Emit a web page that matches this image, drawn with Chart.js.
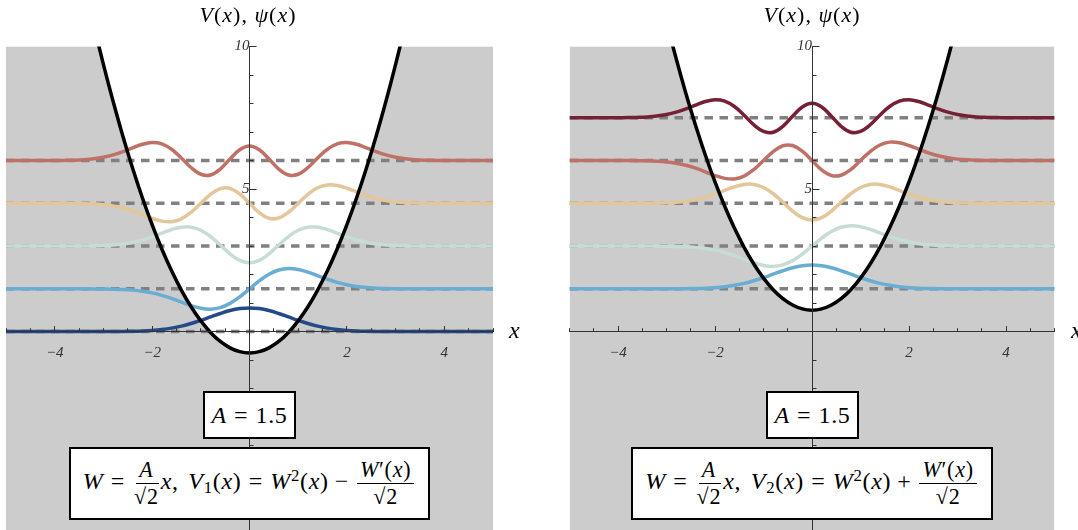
<!DOCTYPE html>
<html><head><meta charset="utf-8">
<style>
html,body{margin:0;padding:0;width:1078px;height:530px;overflow:hidden;background:#fff}
#wrap{position:relative;width:1078px;height:530px;overflow:hidden}
canvas{position:absolute;top:0}
.lbl{position:absolute;font-family:'Liberation Serif',serif;color:#000;line-height:1;white-space:nowrap}
.box{position:absolute;box-sizing:border-box;border:2px solid #000;background:#fff;display:flex;align-items:center;justify-content:center;font-family:'Liberation Serif',serif;font-size:24px;line-height:1;white-space:nowrap;color:#000}
.math{display:inline-block;letter-spacing:0.7px;font-family:'Liberation Serif',serif}
i{font-style:italic}
.rel{margin:0 0.3em}
.bin{margin:0 0.25em}
.sp{display:inline-block;width:0.4em}
.frac{display:inline-flex;flex-direction:column;align-items:center;vertical-align:middle;margin:0 2px;font-size:0.92em}
.frac .num{border-bottom:1.3px solid #000;padding:0 3px 2px}
.frac .den{padding-top:2px}
.ol{border-top:1.3px solid #000}
sub,sup{font-size:0.7em;line-height:0}
sub{vertical-align:-0.25em}
sup{vertical-align:0.5em}
</style></head>
<body>
<div id="wrap">
<canvas id="c1" width="539" height="560" style="left:0"></canvas>
<canvas id="c2" width="539" height="560" style="left:539px"></canvas>

<div class="lbl" style="left:248px;top:4px;font-size:22px;transform:translateX(-50%);letter-spacing:1px"><i>V</i>(<i>x</i>), <i>ψ</i>(<i>x</i>)</div>
<div class="lbl" style="left:812px;top:4px;font-size:22px;transform:translateX(-50%);letter-spacing:1px"><i>V</i>(<i>x</i>), <i>ψ</i>(<i>x</i>)</div>
<div class="lbl" style="left:509px;top:318px;font-size:24px"><i>x</i></div>
<div class="lbl" style="left:1071px;top:318px;font-size:24px"><i>x</i></div>

<div class="box" style="left:203px;top:391px;width:93px;height:48px"><span class="math"><i>A</i><span class="rel">=</span>1.5</span></div>
<div class="box" style="left:766px;top:391px;width:93px;height:48px"><span class="math"><i>A</i><span class="rel">=</span>1.5</span></div>

<div class="box" style="left:69px;top:447px;width:361px;height:73px"><span class="math"><i>W</i><span class="rel">=</span><span class="frac"><span class="num"><i>A</i></span><span class="den">√<span class="ol">2</span></span></span><i>x</i>,<span class="sp"></span><i>V</i><sub>1</sub>(<i>x</i>)<span class="rel">=</span><i>W</i><sup>2</sup>(<i>x</i>)<span class="bin">−</span><span class="frac"><span class="num"><i>W</i>′(<i>x</i>)</span><span class="den">√<span class="ol">2</span></span></span></span></div>
<div class="box" style="left:631px;top:447px;width:362px;height:73px"><span class="math"><i>W</i><span class="rel">=</span><span class="frac"><span class="num"><i>A</i></span><span class="den">√<span class="ol">2</span></span></span><i>x</i>,<span class="sp"></span><i>V</i><sub>2</sub>(<i>x</i>)<span class="rel">=</span><i>W</i><sup>2</sup>(<i>x</i>)<span class="bin">+</span><span class="frac"><span class="num"><i>W</i>′(<i>x</i>)</span><span class="den">√<span class="ol">2</span></span></span></span></div>
</div>

<script src="https://cdn.jsdelivr.net/npm/chart.js@4.4.0/dist/chart.umd.min.js"></script>
<script>
// ---- data ----
const xs = [-5,-4.8,-4.6,-4.4,-4.2,-4,-3.8,-3.6,-3.4,-3.2,-3,-2.8,-2.6,-2.4,-2.2,-2,-1.8,-1.6,-1.4,-1.2,-1,-0.8,-0.6,-0.4,-0.2,
  0,0.2,0.4,0.6,0.8,1,1.2,1.4,1.6,1.8,2,2.2,2.4,2.6,2.8,3,3.2,3.4,3.6,3.8,4,4.2,4.4,4.6,4.8,5];

const potential1 = [27.375,25.17,23.055,21.03,19.095,17.25,15.495,13.83,12.255,10.77,9.375,8.07,6.855,5.73,4.695,3.75,2.895,2.13,1.455,0.87,0.375,-0.03,-0.345,-0.57,-0.705,
  -0.75,-0.705,-0.57,-0.345,-0.03,0.375,0.87,1.455,2.13,2.895,3.75,4.695,5.73,6.855,8.07,9.375,10.77,12.255,13.83,15.495,17.25,19.095,21.03,23.055,25.17,27.375];
const potential2 = [28.875,26.67,24.555,22.53,20.595,18.75,16.995,15.33,13.755,12.27,10.875,9.57,8.355,7.23,6.195,5.25,4.395,3.63,2.955,2.37,1.875,1.47,1.155,0.93,0.795,
  0.75,0.795,0.93,1.155,1.47,1.875,2.37,2.955,3.63,4.395,5.25,6.195,7.23,8.355,9.57,10.875,12.27,13.755,15.33,16.995,18.75,20.595,22.53,24.555,26.67,28.875];

const psi0 = [0,0,0,0,0,0,0,0,0.0001,0.0004,0.0010,0.0023,0.0052,0.0111,0.0220,0.0414,0.0732,0.1219,0.1911,0.2823,0.3927,0.5144,0.6346,0.7373,0.8067,
  0.8313,0.8067,0.7373,0.6346,0.5144,0.3927,0.2823,0.1911,0.1219,0.0732,0.0414,0.0220,0.0111,0.0052,0.0023,0.0010,0.0004,0.0001,0,0,0,0,0,0,0,0];
const psi1 = [0,0,0,0,0,0,-0.0001,-0.0003,-0.0008,-0.0021,-0.0051,-0.0113,-0.0235,-0.0460,-0.0840,-0.1434,-0.2282,-0.3377,-0.4635,-0.5868,-0.6801,-0.7127,-0.6595,-0.5108,-0.2795,
  0,0.2795,0.5108,0.6595,0.7127,0.6801,0.5868,0.4635,0.3377,0.2282,0.1434,0.0840,0.0460,0.0235,0.0113,0.0051,0.0021,0.0008,0.0003,0.0001,0,0,0,0,0,0];
const psi2 = [0,0,0,0,0.0001,0.0002,0.0005,0.0013,0.0034,0.0081,0.0179,0.0370,0.0712,0.1273,0.2108,0.3219,0.4512,0.5757,0.6595,0.6627,0.5553,0.3346,0.0359,-0.2711,-0.5020,
  -0.5878,-0.5020,-0.2711,0.0359,0.3346,0.5553,0.6627,0.6595,0.5757,0.4512,0.3219,0.2108,0.1273,0.0712,0.0370,0.0179,0.0081,0.0034,0.0013,0.0005,0.0002,0.0001,0,0,0,0];
const psi3 = [0,0,0,-0.0001,-0.0002,-0.0006,-0.0018,-0.0046,-0.0109,-0.0241,-0.0496,-0.0944,-0.1659,-0.2679,-0.3951,-0.5268,-0.6251,-0.6453,-0.5449,-0.3162,0,0.3143,0.5170,0.5255,0.3286,
  0,-0.3286,-0.5255,-0.5170,-0.3143,0,0.3162,0.5449,0.6453,0.6251,0.5268,0.3951,0.2679,0.1659,0.0944,0.0496,0.0241,0.0109,0.0046,0.0018,0.0006,0.0002,0.0001,0,0,0];
const psi4 = [0,0,0.0001,0.0003,0.0008,0.0021,0.0054,0.0131,0.0291,0.0598,0.1133,0.1968,0.3120,0.4467,0.5703,0.6336,0.5850,0.3956,0.0895,-0.2454,-0.4809,-0.5075,-0.2997,0.0527,0.3778,
  0.5091,0.3778,0.0527,-0.2997,-0.5075,-0.4809,-0.2454,0.0895,0.3956,0.5850,0.6336,0.5703,0.4467,0.3120,0.1968,0.1133,0.0598,0.0291,0.0131,0.0054,0.0021,0.0008,0.0003,0.0001,0,0];

const levels1 = [0, 1.5, 3, 4.5, 6];
const levels2 = [1.5, 3, 4.5, 6, 7.5];
const colors1 = ['#234b8a', '#6aadd3', '#c6ddd3', '#e3c699', '#bf7167'];
const colors2 = ['#6aadd3', '#c6ddd3', '#e3c699', '#bf7167', '#762034'];

const xTickLabels = [-4, -2, 2, 4];
const yTickLabels = [5, 10];
const xTickMarks = [-5,-4.5,-4,-3.5,-3,-2.5,-2,-1.5,-1,-0.5,0,0.5,1,1.5,2,2.5,3,3.5,4,4.5,5];
const xMajorTicks = [-4,-2,0,2,4];
const yTickMarks = [-6,-5,-4,-3,-2,-1,0,1,2,3,4,5,6,7,8,9,10];
const yMajorTicks = [-5,0,5,10];

// ---- drawing ----
const psis = [psi0, psi1, psi2, psi3, psi4];
const AXIS = '#333';
const fmt = v => v < 0 ? '\u2212' + Math.abs(v) : String(v);

const tickMarks = {
  id: 'tickMarks',
  afterDraw(chart) {
    const {ctx} = chart;
    const sx = chart.scales.x, sy = chart.scales.y;
    const al = p => Math.round(p - 0.5) + 0.5;
    const axX = al(sx.getPixelForValue(0));
    const axY = al(sy.getPixelForValue(0));
    ctx.save();
    ctx.strokeStyle = AXIS; ctx.lineWidth = 1;
    ctx.beginPath();
    xTickMarks.forEach(v => {
      const px = al(sx.getPixelForValue(v));
      const len = xMajorTicks.includes(v) ? 5.5 : 3.3;
      ctx.moveTo(px, axY); ctx.lineTo(px, axY - len);
    });
    yTickMarks.forEach(v => {
      const py = al(sy.getPixelForValue(v));
      const len = yMajorTicks.includes(v) ? 7 : 4;
      ctx.moveTo(axX, py); ctx.lineTo(axX + len, py);
    });
    ctx.stroke();
    ctx.restore();
  }
};

Chart.defaults.font.family = "'Liberation Serif', serif";

function panel(id, padL, padR, potential, levels, colors) {
  const curve = ys => xs.map((x, i) => ({x, y: ys[i]}));
  const waves = levels.map((L, k) => ({
    data: xs.map((x, i) => ({x, y: L + psis[k][i]})),
    borderColor: colors[k], borderWidth: 3.5, pointRadius: 0, tension: 0.4, fill: false
  }));
  const dashes = levels.map(L => ({
    data: [{x: xs[0], y: L}, {x: xs[xs.length - 1], y: L}],
    borderColor: '#808080', borderWidth: 3.5, borderDash: [8.5, 6.5], pointRadius: 0, fill: false
  }));
  const line = {data: curve(potential), borderColor: '#000', borderWidth: 3.5, pointRadius: 0, tension: 0.4, fill: false};
  const area = {data: curve(potential), borderWidth: 0, borderColor: 'rgba(0,0,0,0)', backgroundColor: '#cccccc', pointRadius: 0, tension: 0.4, fill: 'start'};
  const tickFont = {family: "'Liberation Serif', serif", size: 15, style: 'italic'};
  new Chart(document.getElementById(id), {
    type: 'line',
    data: {datasets: [line, ...waves, ...dashes, area]},
    options: {
      responsive: false, animation: false, devicePixelRatio: 1, events: [],
      layout: {padding: {left: padL, right: padR, top: 46.5, bottom: 30}},
      plugins: {legend: {display: false}, tooltip: {enabled: false}},
      scales: {
        x: {
          type: 'linear', min: -5, max: 5, position: {y: 0},
          grid: {display: false, drawTicks: false},
          border: {display: true, color: AXIS, width: 1, z: 1},
          ticks: {z: 1, padding: 12, font: tickFont, color: '#333', maxRotation: 0, autoSkip: false, callback: fmt},
          afterBuildTicks: s => { s.ticks = xTickLabels.map(v => ({value: v})); }
        },
        y: {
          type: 'linear', min: -6.96, max: 10, position: {x: 0},
          grid: {display: false, drawTicks: false},
          border: {display: true, color: AXIS, width: 1, z: 1},
          ticks: {z: 1, padding: 5, font: tickFont, color: '#333', autoSkip: false, callback: fmt},
          afterBuildTicks: s => { s.ticks = yTickLabels.map(v => ({value: v})); }
        }
      }
    },
    plugins: [tickMarks]
  });
}

panel('c1', 6, 46, potential1, levels1, colors1);
panel('c2', 30.5, 23.5, potential2, levels2, colors2);
</script>
</body></html>
